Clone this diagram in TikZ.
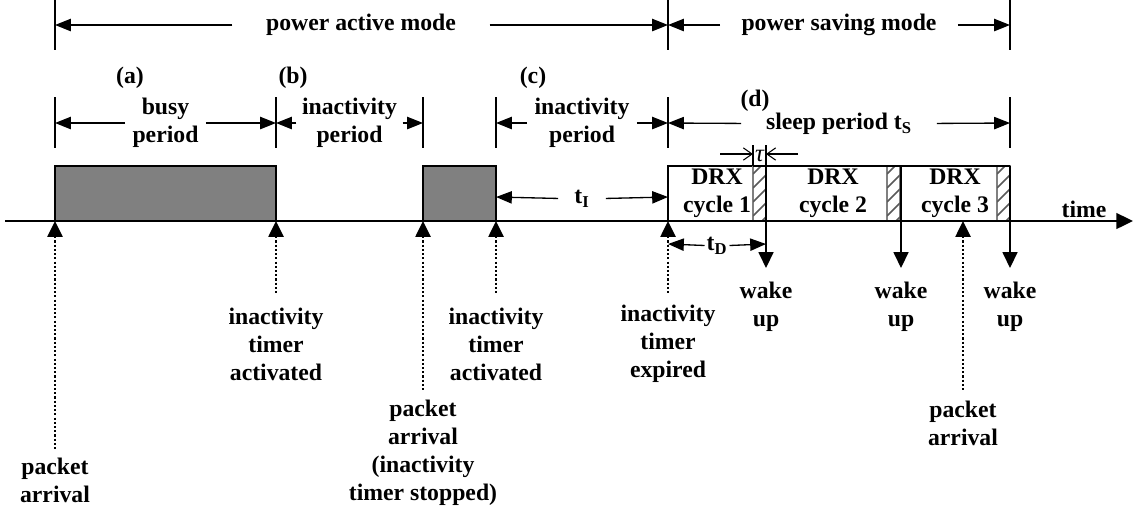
\documentclass[tikz,border=0pt]{standalone}
\usepackage{fontspec}
\setmainfont{Liberation Serif}
\usetikzlibrary{arrows.meta}

\tikzset{
  lbl/.style={font=\fontsize{13.5}{15.9}\selectfont\bfseries, align=center, inner sep=1pt},
  dim/.style={line width=0.75pt, -{Triangle[length=9pt,width=7pt]}},
  barb/.style={line width=0.6pt, -{Straight Barb[length=5pt,width=7pt]}},
  tick/.style={line width=0.8pt},
  evt/.style={line width=1.3pt, dash pattern=on 1.2pt off 1.2pt, {Triangle[length=9pt,width=8.5pt]}-},
  wake/.style={line width=0.8pt, -{Triangle[length=9pt,width=8.5pt]}},
  busybox/.style={draw, line width=0.8pt, fill=gray},
  hatchbox/.style={draw=gray, line width=0.8pt, fill=white},
  hatch/.style={draw=black!65, line width=0.9pt}
}

\begin{document}
\begin{tikzpicture}[x=0.02cm, y=-0.02cm]
  \useasboundingbox (0,0) rectangle (1135,515);

  % Events on the time axis
  \coordinate (e1) at (55,221);
  \coordinate (e2) at (276,221);
  \coordinate (e3) at (423,221);
  \coordinate (e4) at (496,221);
  \coordinate (e5) at (668,221);
  \coordinate (e6) at (963,221);
  \coordinate (w1) at (766,221);
  \coordinate (w2) at (901,221);
  \coordinate (w3) at (1010,221);

  % Busy periods
  \draw[busybox] (55,166) rectangle (276,221);
  \draw[busybox] (423,166) rectangle (496,221);

  % DRX cycles
  \draw[line width=0.8pt] (668,166) rectangle (1010,221);
  \foreach \x in {753,887,997} {
    \draw[hatchbox] (\x,166) rectangle ++(13,55);
    \begin{scope}
      \clip (\x,166) rectangle ++(13,55);
      \foreach \k in {0,...,4}
        \draw[hatch] (\x,230-14*\k) -- (\x+13,217-14*\k);
    \end{scope}
  }
  \draw[line width=0.8pt] (766,166) -- (766,221);
  \draw[line width=0.8pt] (901,166) -- (901,221);
  \draw[line width=0.8pt] (1010,166) -- (1010,221);
  \draw[line width=0.8pt] (753,166) -- (1010,166);

  \node[lbl] (c1) at (717,193) {DRX\\cycle 1};
  \node[lbl] (c2) at (833,193) {DRX\\cycle 2};
  \node[lbl] (c3) at (955,193) {DRX\\cycle 3};

  % Time axis
  \coordinate (ax0) at (5,221);
  \coordinate (ax1) at (1133,221);
  \draw[line width=1.1pt, -{Triangle[length=9.5pt,width=9pt]}] (ax0) -- (ax1);
  \node[lbl] (time) at (1084,209) {time};

  % Modes
  \foreach \x in {55,668,1010} \draw[tick] (\x,0) -- (\x,50);
  \coordinate (p0) at (55,25);
  \coordinate (p1) at (668,25);
  \coordinate (p2) at (1010,25);
  \node[lbl, inner xsep=19pt] (pam) at (361,25) {power active mode};
  \node[lbl, inner xsep=12pt] (psm) at (839,25) {power saving mode};
  \draw[dim] (pam) -- (p0);
  \draw[dim] (pam) -- (p1);
  \draw[dim] (psm) -- (p1);
  \draw[dim] (psm) -- (p2);

  % Periods
  \foreach \x in {55,276,423,496,668,1010} \draw[tick] (\x,97) -- (\x,148);
  \coordinate (q0) at (55,123);
  \coordinate (q1) at (276,123);
  \coordinate (q2) at (423,123);
  \coordinate (q3) at (496,123);
  \coordinate (q4) at (668,123);
  \coordinate (q5) at (1010,123);
  \node[lbl, inner xsep=4pt] (busy) at (165.5,123) {busy\\period};
  \node[lbl, inner xsep=3pt] (inb) at (349.5,123) {inactivity\\period};
  \node[lbl, inner xsep=4pt] (inc) at (582,123) {inactivity\\period};
  \node[lbl, inner xsep=14pt] (sleep) at (839,124) {sleep period t\textsubscript{S}};
  \draw[dim] (busy) -- (q0);
  \draw[dim] (busy) -- (q1);
  \draw[dim] (inb) -- (q1);
  \draw[dim] (inb) -- (q2);
  \draw[dim] (inc) -- (q3);
  \draw[dim] (inc) -- (q4);
  \draw[dim] (sleep) -- (q4);
  \draw[dim] (sleep) -- (q5);

  \node[lbl] (la) at (130,78) {(a)};
  \node[lbl] (lb) at (293,78) {(b)};
  \node[lbl] (lc) at (533,78) {(c)};
  \node[lbl] (ld) at (755,101) {(d)};

  % Timer lengths
  \coordinate (i0) at (496,197);
  \coordinate (i1) at (668,197);
  \node[lbl, inner xsep=9pt] (tI) at (582,199) {t\textsubscript{I}};
  \draw[dim] (tI) -- (i0);
  \draw[dim] (tI) -- (i1);

  \coordinate (d0) at (668,244);
  \coordinate (d1) at (766,244);
  \node[lbl, inner xsep=1pt] (tD) at (717,246) {t\textsubscript{D}};
  \draw[dim] (tD) -- (d0);
  \draw[dim] (tD) -- (d1);

  \draw[tick] (753,145) -- (753,166);
  \draw[tick] (766,145) -- (766,166);
  \coordinate (tauL) at (720,154);
  \coordinate (tauR) at (798,154);
  \coordinate (tau0) at (753,154);
  \coordinate (tau1) at (766,154);
  \node[inner sep=0pt, font=\fontsize{14}{16}\selectfont\itshape] (tau) at (759.5,156) {τ};
  \draw[barb] (tauL) -- (tau0);
  \draw[barb] (tauR) -- (tau1);

  % Wake up
  \coordinate (w1e) at (766,268);
  \coordinate (w2e) at (901,268);
  \coordinate (w3e) at (1010,268);
  \draw[wake] (w1) -- (w1e);
  \draw[wake] (w2) -- (w2e);
  \draw[wake] (w3) -- (w3e);
  \node[lbl] (wk1) at (766,307) {wake\\up};
  \node[lbl] (wk2) at (901,307) {wake\\up};
  \node[lbl] (wk3) at (1010,307) {wake\\up};

  % Event markers
  \coordinate (e1b) at (55,450);
  \coordinate (e2b) at (276,295);
  \coordinate (e3b) at (423,390);
  \coordinate (e4b) at (496,295);
  \coordinate (e5b) at (668,295);
  \coordinate (e6b) at (963,390);
  \draw[evt] (e1) -- (e1b);
  \draw[evt] (e2) -- (e2b);
  \draw[evt] (e3) -- (e3b);
  \draw[evt] (e4) -- (e4b);
  \draw[evt] (e5) -- (e5b);
  \draw[evt] (e6) -- (e6b);

  \node[lbl] (pa1) at (55,480) {packet\\arrival};
  \node[lbl] (ta1) at (276,344) {inactivity\\timer\\activated};
  \node[lbl] (pa2) at (423,453) {packet\\arrival\\(inactivity\\timer stopped)};
  \node[lbl] (ta2) at (496,344) {inactivity\\timer\\activated};
  \node[lbl] (te) at (668,344) {inactivity\\timer\\expired};
  \node[lbl] (pa3) at (963,423) {packet\\arrival};
\end{tikzpicture}
\end{document}
